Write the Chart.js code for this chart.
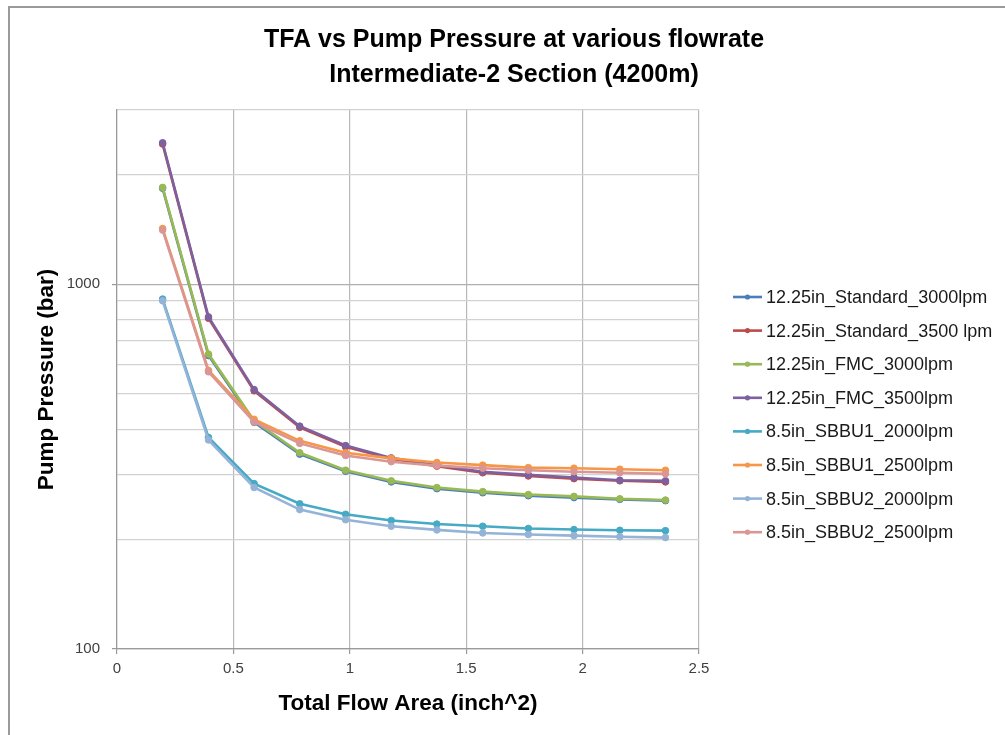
<!DOCTYPE html>
<html>
<head>
<meta charset="utf-8">
<script src="https://cdn.jsdelivr.net/npm/chart.js@4.4.0/dist/chart.umd.min.js"></script>
<style>
  html, body { margin: 0; padding: 0; background: #fff; }
  #wrap { position: relative; width: 1005px; height: 735px; }
  #frame { position: absolute; left: 8px; top: 6px; width: 1100px; height: 800px;
           border-left: 2px solid #9a9a9a; border-top: 2px solid #9a9a9a; pointer-events: none; }
  canvas { position: absolute; left: 0; top: 0; }
</style>
</head>
<body>
<div id="wrap">
  <canvas id="c" width="1005" height="735"></canvas>
  <div id="frame"></div>
</div>
<script>
const titleLines = ["TFA vs Pump Pressure at various flowrate", "Intermediate-2 Section (4200m)"];
const xTitle = "Total Flow Area (inch^2)";
const yTitle = "Pump Pressure (bar)";

const tfa = [0.196, 0.393, 0.589, 0.785, 0.982, 1.178, 1.374, 1.571, 1.767, 1.963, 2.160, 2.356];

const seriesNames = [
  "12.25in_Standard_3000lpm",
  "12.25in_Standard_3500 lpm",
  "12.25in_FMC_3000lpm",
  "12.25in_FMC_3500lpm",
  "8.5in_SBBU1_2000lpm",
  "8.5in_SBBU1_2500lpm",
  "8.5in_SBBU2_2000lpm",
  "8.5in_SBBU2_2500lpm"
];
const std3000   = [1830, 637, 418, 342, 307, 287, 275, 268, 263, 260, 257, 255];
const std3500   = [2420, 806, 510, 405, 358, 332, 317, 304, 298, 293, 289, 287];
const fmc3000   = [1841, 643, 422, 345, 309, 289, 277, 270, 265, 262, 258, 256];
const fmc3500   = [2440, 813, 514, 408, 361, 334, 319, 306, 300, 295, 290, 289];
const sbbu1_2000 = [910, 380, 284, 250, 234, 225, 220, 217, 214, 212.5, 211.5, 211];
const sbbu1_2500 = [1420, 580, 426, 372, 345, 333, 324.5, 319, 314, 313, 311, 309];
const sbbu2_2000 = [900, 374, 277, 241, 226, 217, 212, 208, 206, 204.5, 203, 202];
const sbbu2_2500 = [1406, 575, 419, 366, 339, 326, 318, 313, 309, 306, 304, 302];
const seriesValues = [std3000, std3500, fmc3000, fmc3500, sbbu1_2000, sbbu1_2500, sbbu2_2000, sbbu2_2500];
const seriesColors = ["#4A7EBB", "#BE4B48", "#98B954", "#7D60A0", "#46AAC5", "#F79646", "#95B3D7", "#D99694"];

const xTicks = [0, 0.5, 1, 1.5, 2, 2.5];
const yTicks = [100, 200, 300, 400, 500, 600, 700, 800, 900, 1000, 2000, 3000];
const yLabelled = [100, 1000];

const FONT = "'Liberation Sans', Arial, sans-serif";

const datasets = seriesNames.map((name, i) => ({
  label: name,
  data: tfa.map((x, j) => ({ x: x, y: seriesValues[i][j] })),
  order: seriesNames.length - i,
  borderColor: seriesColors[i],
  backgroundColor: seriesColors[i],
  borderWidth: 2.6,
  pointRadius: 3.3,
  pointHoverRadius: 3.3,
  pointBorderWidth: 1,
  tension: 0
}));

const decorPlugin = {
  id: 'decor',
  afterDraw(chart) {
    const ctx = chart.ctx;
    ctx.save();
    ctx.fillStyle = '#000';
    ctx.textAlign = 'center';
    ctx.textBaseline = 'middle';
    ctx.font = "bold 25px " + FONT;
    ctx.fillText(titleLines[0], 514, 40);
    ctx.fillText(titleLines[1], 514, 75);
    const lx = 733, ly0 = 297, step = 33.6;
    ctx.font = "18px " + FONT;
    ctx.textAlign = 'left';
    seriesNames.forEach((name, i) => {
      const y = ly0 + i * step;
      ctx.strokeStyle = seriesColors[i];
      ctx.lineWidth = 2.6;
      ctx.beginPath();
      ctx.moveTo(lx, y);
      ctx.lineTo(lx + 29, y);
      ctx.stroke();
      ctx.fillStyle = seriesColors[i];
      ctx.beginPath();
      ctx.arc(lx + 14.5, y, 2.6, 0, Math.PI * 2);
      ctx.fill();
      ctx.fillStyle = '#1a1a1a';
      ctx.fillText(name, lx + 33, y + 1);
    });
    ctx.restore();
  }
};

new Chart(document.getElementById('c'), {
  type: 'line',
  data: { datasets },
  plugins: [decorPlugin],
  options: {
    responsive: false,
    animation: false,
    events: [],
    layout: { padding: { left: 0, top: 110, right: 306, bottom: 0 } },
    plugins: { legend: { display: false }, title: { display: false }, tooltip: { enabled: false } },
    scales: {
      x: {
        type: 'linear',
        min: 0, max: 2.5,
        afterFit(s) { s.height = 86; },
        afterBuildTicks(s) { s.ticks = xTicks.map(v => ({ value: v })); },
        grid: { color: '#b9b9b9', lineWidth: 1.2, tickLength: 5, tickColor: '#999' },
        border: { color: '#9a9a9a', width: 1.2 },
        ticks: { color: '#404040', font: { size: 15, family: FONT }, padding: 6, maxRotation: 0,
                 callback: (v) => String(v) },
        title: { display: true, text: xTitle, color: '#000', font: { size: 22.5, weight: 'bold', family: FONT }, padding: { top: 0, bottom: 17.5 } }
      },
      y: {
        type: 'logarithmic',
        min: 100, max: 3000,
        afterFit(s) { s.width = 117; },
        afterBuildTicks(s) { s.ticks = yTicks.map(v => ({ value: v, major: yLabelled.includes(v) })); },
        grid: {
          color: (c) => yLabelled.includes(c.tick && c.tick.value) ? '#b0b0b0' : '#d2d2d2',
          lineWidth: 1.2,
          tickLength: 5,
          tickColor: (c) => yLabelled.includes(c.tick && c.tick.value) ? '#999' : 'rgba(0,0,0,0)'
        },
        border: { color: '#9a9a9a', width: 1.2 },
        ticks: {
          color: '#404040', font: { size: 15, family: FONT }, padding: 12,
          autoSkip: false,
          callback: (v) => yLabelled.includes(v) ? String(v) : ''
        },
        title: { display: true, text: yTitle, color: '#000', font: { size: 22.5, weight: 'bold', family: FONT }, padding: { top: 33.5, bottom: 0 } }
      }
    }
  }
});
</script>
</body>
</html>
